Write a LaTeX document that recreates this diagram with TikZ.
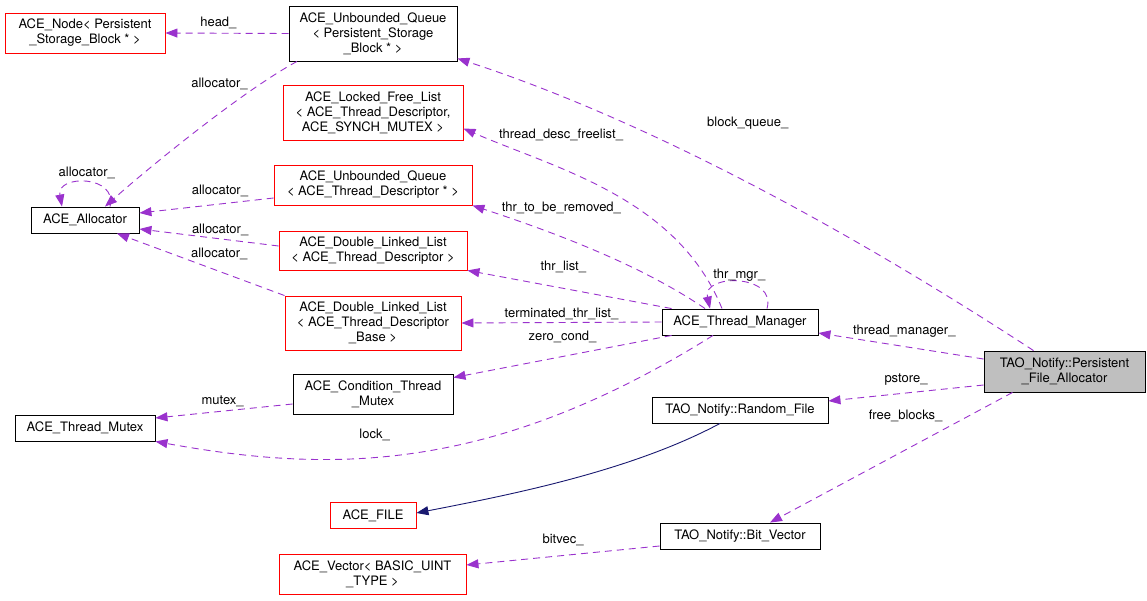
\documentclass[tikz,border=0pt]{standalone}
\usepackage{fontspec}
\setmainfont{TeX Gyre Heros}
\usetikzlibrary{arrows.meta,calc}

\definecolor{edgepurple}{RGB}{154,50,205}
\definecolor{inhnavy}{RGB}{25,25,112}
\definecolor{boxgray}{RGB}{191,191,191}

\tikzset{
  cls/.style={rectangle, draw=black, line width=0.9pt, align=center, inner sep=0pt,
    font=\fontsize{13}{15}\selectfont},
  extcls/.style={cls, draw=red},
  curcls/.style={cls, fill=boxgray},
  wh/.style 2 args={minimum width=#1, minimum height=#2},
  lbl/.style={font=\fontsize{13}{15}\selectfont, inner sep=1pt, text=black},
  member/.style={-{Triangle[length=12pt,width=9pt]}, draw=edgepurple, line width=0.9pt,
    dash pattern=on 7pt off 5pt, nodes={lbl}},
  inherit/.style={-{Triangle[length=12pt,width=9pt]}, draw=inhnavy, line width=0.9pt}
}

\begin{document}
\begin{tikzpicture}[x=1pt, y=-1pt]
  \useasboundingbox (0,0) rectangle (1147,600);

  % classes
  \node[extcls, wh={160}{40}] (acenode) at (85,33) {ACE\_Node< Persistent\\\_Storage\_Block * >};
  \node[cls, wh={168}{55}] (uqpsb) at (373,33.5) {ACE\_Unbounded\_Queue\\< Persistent\_Storage\\\_Block * >};
  \node[extcls, wh={180}{55}] (lfl) at (373,112.5) {ACE\_Locked\_Free\_List\\< ACE\_Thread\_Descriptor,\\ ACE\_SYNCH\_MUTEX >};
  \node[extcls, wh={198}{40}] (uqtd) at (373,185) {ACE\_Unbounded\_Queue\\< ACE\_Thread\_Descriptor * >};
  \node[cls, wh={108}{26}] (alloc) at (85,220) {ACE\_Allocator};
  \node[extcls, wh={188}{39}] (dlltd) at (373,250.5) {ACE\_Double\_Linked\_List\\< ACE\_Thread\_Descriptor >};
  \node[extcls, wh={176}{54}] (dllbase) at (373,323) {ACE\_Double\_Linked\_List\\< ACE\_Thread\_Descriptor\\\_Base >};
  \node[cls, wh={160}{40}] (ctm) at (373,394) {ACE\_Condition\_Thread\\\_Mutex};
  \node[cls, wh={140}{26}] (tmutex) at (85,428) {ACE\_Thread\_Mutex};
  \node[extcls, wh={86}{26}] (file) at (373,515.5) {ACE\_FILE};
  \node[extcls, wh={187}{40}] (vector) at (372.5,574) {ACE\_Vector< BASIC\_UINT\\\_TYPE >};
  \node[cls, wh={156}{26}] (tm) at (740,322) {ACE\_Thread\_Manager};
  \node[cls, wh={176}{26}] (rfile) at (740,410) {TAO\_Notify::Random\_File};
  \node[cls, wh={160}{26}] (bitvec) at (740,536) {TAO\_Notify::Bit\_Vector};
  \node[curcls, wh={161}{41}] (pfa) at (1064.5,371.5) {TAO\_Notify::Persistent\\\_File\_Allocator};

  % members of the unbounded queue and the allocator
  \draw[member] (uqpsb.west) -- node[pos=0.57, above=2.5pt] {head\_} (acenode.east);
  \draw[member] ($(uqpsb.south)+(-76,0)$) .. controls +(-53,28.5) and +(45,-40) .. node[pos=0.2, left=12pt] {allocator\_} ($(alloc.north)+(20,0)$);
  \draw[member] ($(alloc.north)+(25,0)$) .. controls +(8,-32) and +(-6,-32) .. node[pos=0.5, above=2.5pt] {allocator\_} ($(alloc.north)+(-23,0)$);
  \draw[member] ($(uqtd.west)+(0,13)$) -- node[pos=0.4, above=6pt] {allocator\_} ($(alloc.east)+(0,-7)$);
  \draw[member] ($(dlltd.west)+(0,-4.5)$) -- node[pos=0.42, above=2pt] {allocator\_} ($(alloc.east)+(0,9)$);
  \draw[member] (dllbase.north west) -- node[pos=0.39, above=10pt] {allocator\_} ($(alloc.south)+(32,0)$);

  % members of the thread manager
  \draw[member] ($(tm.north)+(-18,0)$) .. controls +(-45,-111) and +(92,40) .. node[pos=0.88, anchor=south west] {thread\_desc\_freelist\_} ($(lfl.east)+(0,16)$);
  \draw[member] ($(tm.north)+(-35,0)$) .. controls +(-66,-45) and +(76,25) .. node[pos=0.88, anchor=south west] {thr\_to\_be\_removed\_} (uqtd.south east);
  \draw[member] ($(tm.north west)+(10,0)$) -- node[pos=0.53, above=14pt] {thr\_list\_} (dlltd.south east);
  \draw[member] ($(tm.north)+(27,0)$) .. controls +(10,-35) and +(-8,-35) .. node[pos=0.5, above=0pt] {thr\_mgr\_} ($(tm.north)+(-30,0)$);
  \draw[member] (tm.west) -- node[above=1.5pt] {terminated\_thr\_list\_} (dllbase.east);
  \draw[member] ($(tm.south west)+(10,0)$) -- node[pos=0.5, above=12.5pt] {zero\_cond\_} ($(ctm.north east)+(0,4)$);
  \draw[member] ($(tm.south)+(-27,0)$) .. controls +(-221,138) and +(176,32) .. node[pos=0.58, above=14.6pt] {lock\_} (tmutex.south east);
  \draw[member] ($(ctm.west)+(0,10)$) -- node[pos=0.51, above=3pt] {mutex\_} ($(tmutex.east)+(0,-10)$);

  % members of the persistent file allocator
  \draw[member] ($(pfa.north)+(-31,0)$) .. controls +(-184,-120) and +(190,62) .. node[pos=0.5, above=52pt] {block\_queue\_} ($(uqpsb.south east)+(0,-3)$);
  \draw[member] ($(pfa.west)+(0,-12.5)$) -- node[pos=0.48, above=7.5pt] {thread\_manager\_} ($(tm.east)+(0,11)$);
  \draw[member] ($(pfa.west)+(0,13.5)$) -- node[pos=0.5, above=6pt] {pstore\_} ($(rfile.east)+(0,-9)$);
  \draw[member] ($(pfa.south)+(-52,0)$) -- node[pos=0.18, left=25pt] {free\_blocks\_} ($(bitvec.north)+(30,0)$);
  \draw[member] ($(bitvec.west)+(0,10)$) -- node[pos=0.5, above=8.5pt] {bitvec\_} ($(vector.east)+(0,-9)$);

  % inheritance
  \draw[inherit] ($(rfile.south)+(-20,0)$) .. controls +(-88,47) and +(98,-19) .. ($(file.east)+(0,-2.5)$);
\end{tikzpicture}
\end{document}
